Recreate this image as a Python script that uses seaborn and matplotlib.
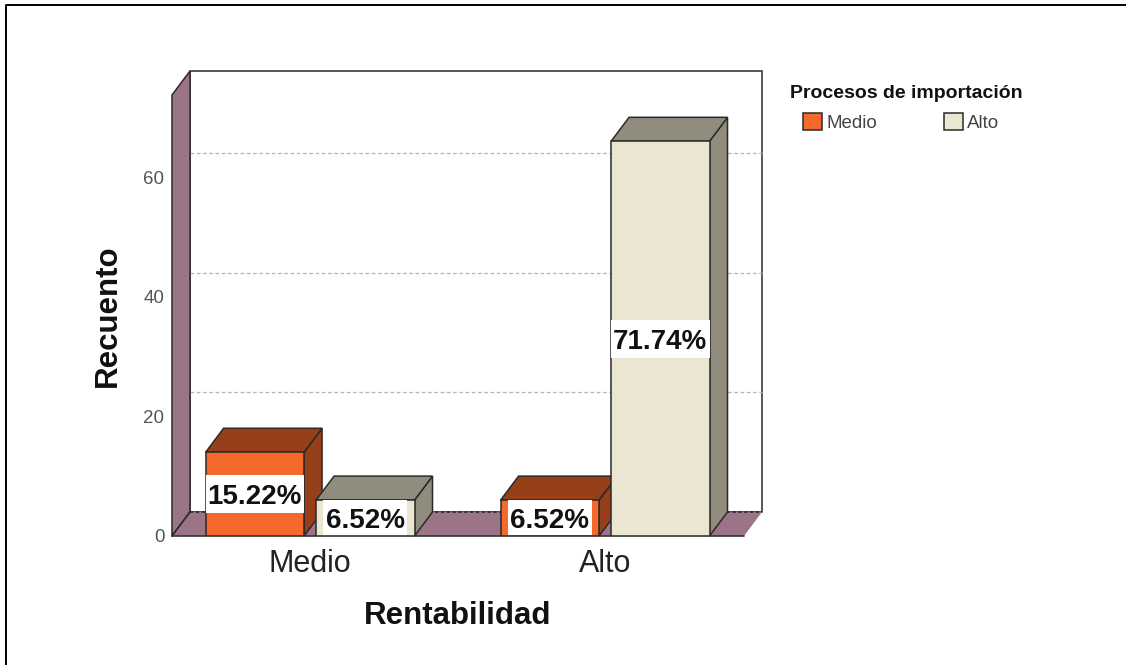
import matplotlib
matplotlib.use('Agg')
import matplotlib.pyplot as plt
import pandas as pd
import seaborn as sns
from matplotlib.patches import Polygon, Rectangle

rentabilidad = ['Medio', 'Medio', 'Alto', 'Alto']
procesos = ['Medio', 'Alto', 'Medio', 'Alto']
recuento = [14, 6, 6, 66]
porcentajes = ['15.22%', '6.52%', '6.52%', '71.74%']
yticks = [0, 20, 40, 60]

front = {'Medio': '#F56A2C', 'Alto': '#EBE6D2'}
dark = {'Medio': '#963F18', 'Alto': '#908D7E'}
wall = '#9C7488'
edge = '#2A2A2A'

sns.set_theme(style='white')
plt.rcParams['font.family'] = ['Liberation Sans', 'DejaVu Sans']

W, H = 1126, 665
fig = plt.figure(figsize=(W / 100, H / 100), dpi=100)
# ejes = plano frontal del grafico
L, R, T, B = 172, 744, 95, 536
ax = fig.add_axes([L / W, 1 - B / H, (R - L) / W, (B - T) / H])

df = pd.DataFrame({'Rentabilidad': rentabilidad, 'Procesos': procesos, 'Recuento': recuento})
sns.barplot(data=df, x='Rentabilidad', y='Recuento', hue='Procesos', palette=front,
            width=0.749, gap=0.109, edgecolor=edge, linewidth=1.1, saturation=1,
            ax=ax, zorder=5, legend=True)

ax.set_xlim(-0.468, 1.471)
ax.set_ylim(0, 441 / 5.98)
dx = 18 / (R - L) * (ax.get_xlim()[1] - ax.get_xlim()[0])
dy = 24 / (B - T) * ax.get_ylim()[1]
x0, x1 = ax.get_xlim()
y1 = ax.get_ylim()[1]

def poly(pts, fc, z, **kw):
    ax.add_patch(Polygon(pts, closed=True, facecolor=fc, edgecolor=edge, linewidth=1.1,
                         zorder=z, clip_on=False, **kw))

# pared del fondo, pared izquierda, piso
poly([(x0 + dx, dy), (x1 + dx, dy), (x1 + dx, y1 + dy), (x0 + dx, y1 + dy)], 'white', 1)
poly([(x0, 0), (x0 + dx, dy), (x0 + dx, y1 + dy), (x0, y1)], wall, 1.2)
ax.add_patch(Polygon([(x0, 0), (x1, 0), (x1 + dx, dy), (x0 + dx, dy)], closed=True,
                     facecolor=wall, edgecolor='none', zorder=1.2, clip_on=False))
ax.plot([x0, x1], [0, 0], color='#333333', lw=1.2, zorder=1.3, clip_on=False)
ax.plot([x0, x0 + dx], [0, dy], color=edge, lw=1.2, zorder=1.3, clip_on=False)
ax.plot([x0 + dx, x1 + dx], [dy, dy], color=edge, lw=1.2, ls=(0, (2, 1.5)), zorder=1.3, clip_on=False)

# lineas de cuadricula sobre la pared del fondo
for t in yticks[1:]:
    ax.plot([x0 + dx, x1 + dx], [t + dy, t + dy], color='#B5B5B5', lw=0.9, ls=(0, (3, 2)),
            zorder=1.1, clip_on=False)

# caras superior y lateral de cada barra
bars = sorted(ax.containers[0].patches + ax.containers[1].patches, key=lambda p: p.get_x())
colores = [dark[p] for p in procesos]
for i, (p, c) in enumerate(zip(bars, colores)):
    a, b, h = p.get_x(), p.get_x() + p.get_width(), p.get_height()
    z = 2 + i
    poly([(b, 0), (b + dx, dy), (b + dx, h + dy), (b, h)], c, z)
    poly([(a, h), (b, h), (b + dx, h + dy), (a + dx, h + dy)], c, z)
    p.set_zorder(z + 0.5)
    ax.text((a + b) / 2, h / 2, porcentajes[i], ha='center', va='center_baseline', fontsize=20,
            fontweight='bold', color='#111111', zorder=20)
    wb = b - a if h > 10 else 84 / 295
    ax.add_patch(Rectangle(((a + b) / 2 - wb / 2, h / 2 - 19 / 5.98 if h > 10 else 0.1), wb,
                           38 / 5.98 if h > 10 else h - 0.1, facecolor='white', edgecolor='none', zorder=19))

ax.set_xlabel('Rentabilidad', fontsize=22.5, fontweight='bold', color='#111111', labelpad=15.5)
ax.set_ylabel('Recuento', fontsize=22.5, fontweight='bold', color='#111111', labelpad=15)
ax.set_yticks(yticks)
ax.tick_params(axis='y', length=0, labelsize=13.5, labelcolor='#555555', pad=5.5)
ax.tick_params(axis='x', length=0, labelsize=22, labelcolor='#222222', pad=9.5)
sns.despine(ax=ax, left=True, bottom=True, top=True, right=True)
ax.patch.set_alpha(0)

handles, labels = ax.get_legend_handles_labels()
leg = ax.legend(handles, labels, ncol=2, frameon=False,
                loc='upper left', bbox_to_anchor=(799 / W, 1 - 109 / H),
                bbox_transform=fig.transFigure, fontsize=13.5, labelcolor='#444444',
                handlelength=1.05, handleheight=1.0, handletextpad=0.2, columnspacing=3.55,
                borderpad=0.2, borderaxespad=0)
leg.set_zorder(30)
fig.text(790 / W, 1 - 93.5 / H, 'Procesos de importación', fontsize=14, fontweight='bold',
         color='#111111', va='center', ha='left')

# marco exterior
fig.add_artist(plt.Line2D([6 / W, 6 / W, 1 ], [0, 1 - 5 / H, 1 - 5 / H],
                          color='black', lw=1.4))

fig.savefig('out.png', dpi=100)
